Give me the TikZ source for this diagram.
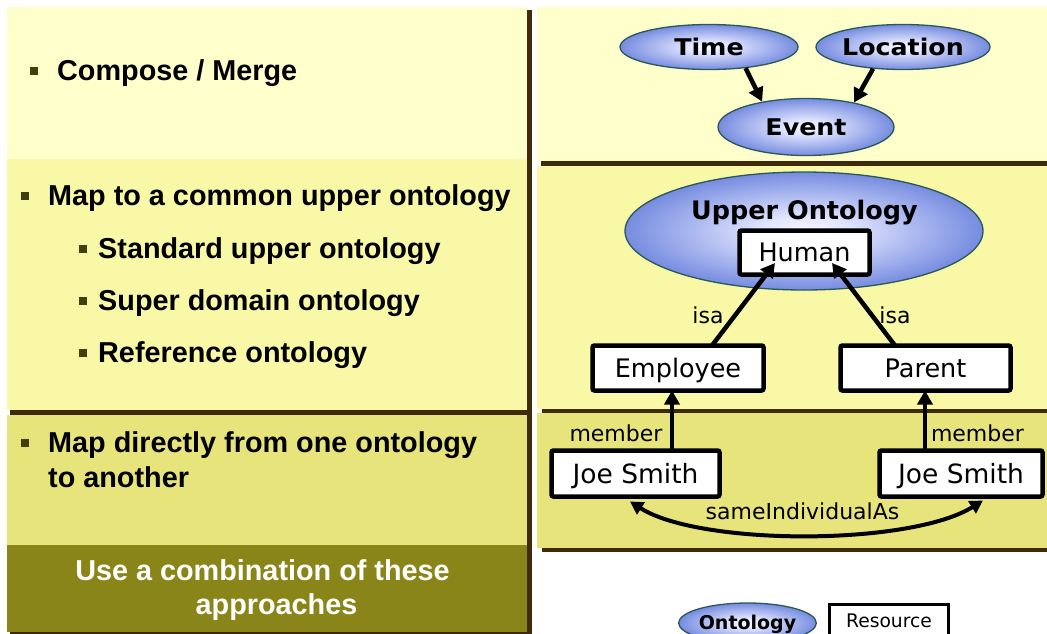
\documentclass[tikz,border=0pt]{standalone}
\usepackage{fontspec}
\setmainfont{Liberation Sans}
\newfontfamily\vfont{DejaVu Sans}
\newfontfamily\vwide[FakeStretch=1.1]{DejaVu Sans}
\usetikzlibrary{shapes.geometric,arrows.meta,calc}

\definecolor{cream}{RGB}{255,255,204}
\definecolor{pale}{RGB}{248,248,166}
\definecolor{khaki}{RGB}{232,228,124}
\definecolor{olive}{RGB}{138,133,25}
\definecolor{brownc}{RGB}{63,42,12}
\definecolor{bulletc}{RGB}{64,64,15}
\definecolor{ontocore}{RGB}{250,250,255}
\definecolor{ontoin}{RGB}{226,230,255}
\definecolor{ontoout}{RGB}{90,116,216}
\definecolor{ontoedge}{RGB}{76,102,204}
\definecolor{ontoline}{RGB}{40,88,88}

\pgfdeclareradialshading{ontoshade}{\pgfpointorigin}{%
  color(0bp)=(ontocore); color(6bp)=(ontoin); color(30bp)=(ontoout); color(50bp)=(ontoedge)}

\begin{document}
\begin{tikzpicture}[x=1pt,y=-1pt,
  lefttext/.style={anchor=base west,inner sep=0pt,font=\fontsize{28.8}{34}\selectfont\bfseries},
  onto/.style={ellipse,draw=ontoline,line width=1.3pt,shading=ontoshade,inner sep=0pt,text depth=0pt},
  headfont/.style={font=\vwide\bfseries\fontsize{23}{27}\selectfont,text height=16.8pt},
  res/.style={draw=black,line width=4.5pt,rounded corners=2pt,fill=white,inner sep=0pt,outer sep=0pt,
    text height=18.5pt,text depth=0pt,font=\vfont\fontsize{25.5}{30}\selectfont},
  rel/.style={anchor=base,inner sep=0pt,font=\vfont\fontsize{22}{26}\selectfont},
  arr/.style={line width=4.5pt,-{Triangle[length=14pt,width=15pt]}},
]
\useasboundingbox (0,0) rectangle (1047,633);
\clip (0,0) rectangle (1047,633);

% left column panels
\fill[cream]  (7,7)   rectangle (527,159);
\fill[pale]   (7,159) rectangle (527,410);
\fill[brownc] (10,410) rectangle (527,415);
\fill[khaki]  (7,415) rectangle (527,545);
\fill[olive]  (7,545) rectangle (527,632);
\fill[brownc] (10,632) rectangle (532,634);
\fill[brownc] (527,10) rectangle (532,634);

% right column panels
\fill[cream]  (537,7)   rectangle (1047,161);
\fill[brownc] (541,161) rectangle (1047,166);
\fill[pale]   (537,166) rectangle (1047,409);
\fill[brownc] (542,409) rectangle (1047,413);
\fill[khaki]  (537,413) rectangle (1047,548);
\fill[brownc] (542,548) rectangle (1047,552);

% bullet squares
\fill[bulletc] (30,67) rectangle (38,75);
\fill[bulletc] (21,192) rectangle (29,200);
\fill[bulletc] (79,245) rectangle (87,253);
\fill[bulletc] (79,297) rectangle (87,305);
\fill[bulletc] (79,349) rectangle (87,357);
\fill[bulletc] (21,439) rectangle (29,447);

% left column text
\node[lefttext] (t1)  at (57,80)  {Compose / Merge};
\node[lefttext] (t2)  at (48,205) {Map to a common upper ontology};
\node[lefttext] (t2a) at (98,258) {Standard upper ontology};
\node[lefttext] (t2b) at (98,310) {Super domain ontology};
\node[lefttext] (t2c) at (98,362) {Reference ontology};
\node[lefttext] (t3a) at (48,452) {Map directly from one ontology};
\node[lefttext] (t3b) at (48,487) {to another};
\node[lefttext,anchor=base,text=white] (t4a) at (262.5,580) {Use a combination of these};
\node[lefttext,anchor=base,text=white] (t4b) at (276.5,614) {approaches};

% compose / merge
\node[onto,headfont,minimum width=178pt,minimum height=45pt] (time) at (709,47) {Time};
\node[onto,headfont,minimum width=174pt,minimum height=45pt] (location) at (903,47) {Location};
\node[onto,headfont,minimum width=176pt,minimum height=57pt] (event) at (806,127) {Event};
\draw[arr] (time.-30) -- (event.150);
\draw[arr] (location.-144) -- (event.27);

% upper ontology
\node[onto,minimum width=358pt,minimum height=118pt] (upper) at (804,231) {};
\node[anchor=base,inner sep=0pt,font=\vfont\bfseries\fontsize{25.5}{30}\selectfont] (uotitle) at (804.5,219) {Upper Ontology};
\node[res,minimum width=130pt,minimum height=44pt] (human) at (804.5,252.5) {Human};
\node[res,minimum width=171pt,minimum height=45pt] (employee) at (678,368) {Employee};
\node[res,minimum width=170pt,minimum height=45pt] (parent) at (925.5,368) {Parent};
\draw[arr] ([xshift=34pt]employee.north) -- ([xshift=-29.5pt,yshift=11.5pt]human.south);
\draw[arr] ([xshift=-30.5pt]parent.north) -- ([xshift=27.5pt,yshift=11.5pt]human.south);
\node[rel] (isaL) at (708,323) {isa};
\node[rel] (isaR) at (895,323) {isa};

% direct mapping
\node[res,minimum width=168pt,minimum height=46pt,font=\vfont\fontsize{26.5}{31}\selectfont,text height=19.3pt] (joeL) at (635.5,473.5) {Joe Smith};
\node[res,minimum width=163pt,minimum height=46pt,font=\vfont\fontsize{26.5}{31}\selectfont,text height=19.3pt] (joeR) at (961,473.5) {Joe Smith};
\draw[arr] ([xshift=36.5pt]joeL.north) -- ([xshift=-6pt]employee.south);
\draw[arr] ([xshift=-36pt]joeR.north) -- ([xshift=-0.5pt]parent.south);
\node[rel] (memL) at (616,441) {member};
\node[rel] (memR) at (977.5,441) {member};
\draw[line width=4pt,{Triangle[length=13pt,width=14pt]}-{Triangle[length=13pt,width=14pt]}]
  ([xshift=-5.5pt,yshift=-5pt]joeL.south) .. controls (700,546) and (910,546) .. ([xshift=22pt,yshift=-4pt]joeR.south);
\node[rel] (sameas) at (802.5,519) {sameIndividualAs};

% legend
\node[onto,minimum width=131pt,minimum height=40pt,text height=13.9pt,
  font=\vfont\bfseries\fontsize{19}{23}\selectfont] (legonto) at (747.5,623) {Ontology};
\node[draw=black,line width=3pt,fill=white,minimum width=119pt,minimum height=32pt,
  text height=13.6pt,text depth=0pt,inner sep=0pt,
  font=\vfont\fontsize{18.7}{22}\selectfont] (legres) at (889,620.5) {Resource};
\end{tikzpicture}
\end{document}
